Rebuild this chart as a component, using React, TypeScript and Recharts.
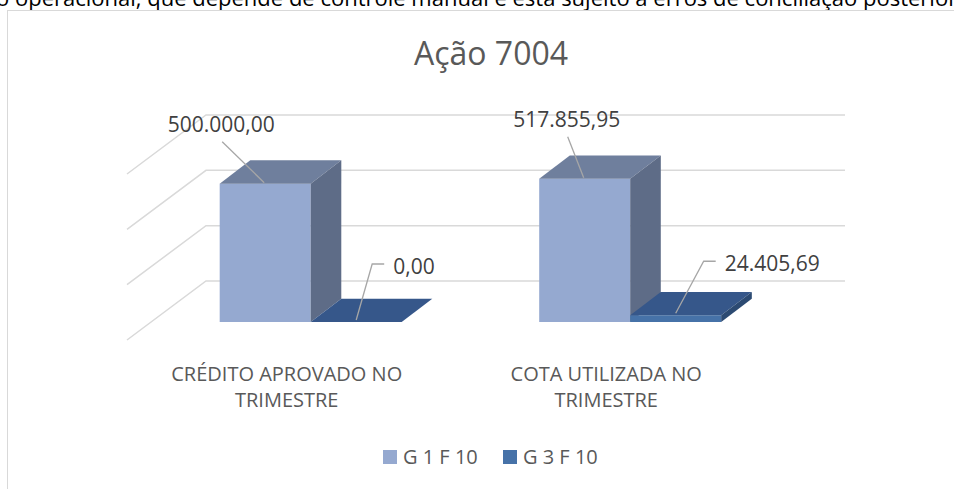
import { BarChart, Bar, XAxis, YAxis, CartesianGrid, Legend, LabelList } from 'recharts';

const categoryLines = [
  ['CRÉDITO APROVADO NO', 'TRIMESTRE'],
  ['COTA UTILIZADA NO', 'TRIMESTRE'],
];
const seriesNames = ['G 1 F 10', 'G 3 F 10'];
const g1Values = [500000, 517855.95];
const g3Values = [0, 24405.69];
const yTicks = [0, 200000, 400000, 600000];

const data = categoryLines.map((lines, i) => ({
  category: lines.join(' '),
  g1: g1Values[i],
  g3: g3Values[i],
}));

const FONT = '"Open Sans", sans-serif';

// oblique projection used to fake the excel 3d look
const FLOOR = { dx: 24, dy: -18 };
const DEPTH = { dx: 30.6, dy: -23.3 };
const WALL = { dx: 79, dy: -59 };

const g1Colors = { front: '#95A9D0', top: '#6F7F9D', side: '#5E6C87' };
const g3Colors = { front: '#4672A8', top: '#36578A', side: '#2C4A72' };

const fmt = (v: number) => {
  const [int, dec] = v.toFixed(2).split('.');
  return int.replace(/\B(?=(\d{3})+(?!\d))/g, '.') + ',' + dec;
};

const box3d = (c: any) => (props: any) => {
  const { x, y, width } = props;
  const h = Math.max(props.height || 0, 0);
  const fx = x + FLOOR.dx;
  const fy = y + FLOOR.dy;
  const rx = fx + width;
  return (
    <g>
      <rect x={fx} y={fy} width={width} height={h} fill={c.front} />
      <polygon
        points={`${fx},${fy} ${rx},${fy} ${rx + DEPTH.dx},${fy + DEPTH.dy} ${fx + DEPTH.dx},${fy + DEPTH.dy}`}
        fill={c.top}
      />
      <polygon
        points={`${rx},${fy} ${rx},${fy + h} ${rx + DEPTH.dx},${fy + h + DEPTH.dy} ${rx + DEPTH.dx},${fy + DEPTH.dy}`}
        fill={c.side}
      />
    </g>
  );
};

const wallLine = (p: any) => (
  <polyline
    key={p.key}
    points={`${p.x1},${p.y1} ${p.x1 + WALL.dx},${p.y1 + WALL.dy} ${p.x2 + WALL.dx},${p.y2 + WALL.dy}`}
    fill='none'
    stroke='#d9d9d9'
    strokeWidth={1.5}
  />
);

const labelStyle = { fontFamily: FONT, fontSize: 21, fill: '#404040' };
const leader = { stroke: '#a6a6a6', strokeWidth: 1.3, fill: 'none' };

const g1Shift = [-44, -18];
const G1Label = (props: any) => {
  const vb = props.viewBox || props;
  const cx = vb.x + FLOOR.dx + vb.width / 2;
  const top = vb.y + FLOOR.dy;
  const tx = cx + g1Shift[props.index];
  const base = top - 52;
  return (
    <g>
      <line x1={tx + 1} y1={base + 10} x2={cx - 1} y2={top - 1} {...leader} />
      <text x={tx} y={base} textAnchor='middle' {...labelStyle}>
        {fmt(Number(props.value))}
      </text>
    </g>
  );
};

const g3Knee = [
  { dx: 16, dy: -58 },
  { dx: 28, dy: -54 },
];
const G3Label = (props: any) => {
  const vb = props.viewBox || props;
  const cx = vb.x + FLOOR.dx + vb.width / 2;
  const top = vb.y + FLOOR.dy;
  const k = g3Knee[props.index];
  const kx = cx + k.dx;
  const ky = top + k.dy;
  return (
    <g>
      <polyline points={`${cx},${top - 2} ${kx},${ky} ${kx + 12},${ky}`} {...leader} />
      <text x={kx + 21} y={ky + 10} {...labelStyle}>
        {fmt(Number(props.value))}
      </text>
    </g>
  );
};

const CategoryTick = (props: any) => {
  const lines = categoryLines[props.index] || [];
  return (
    <g>
      {lines.map((l, i) => (
        <text
          key={i}
          x={props.x}
          y={props.y + 41 + i * 26}
          textAnchor='middle'
          fontFamily={FONT}
          fontSize={20}
          fill='#595959'
        >
          {l}
        </text>
      ))}
    </g>
  );
};

const renderLegend = () => (
  <div style={{ position: 'relative', height: 24, fontFamily: FONT, fontSize: 20, color: '#595959' }}>
    {seriesNames.map((name, i) => (
      <div key={name} style={{ position: 'absolute', left: i * 120, top: 0, display: 'flex', alignItems: 'center', whiteSpace: 'nowrap' }}>
        <span style={{ width: 14, height: 14, background: i === 0 ? g1Colors.front : g3Colors.front, marginRight: 6 }} />
        <span style={{ lineHeight: '24px' }}>{name}</span>
      </div>
    ))}
  </div>
);

export default function App() {
  return (
    <div style={{ position: 'absolute', left: 0, top: 0, width: 954, height: 489, overflow: 'hidden', background: '#fff' }}>
      <svg width={954} height={489} style={{ position: 'absolute', left: 0, top: 0 }}>
        <text x={-4} y={6} fontFamily={FONT} fontSize={22} fill='#000'>
          o operacional, que depende de controle manual e está sujeito a erros de conciliação posterior.
        </text>
        <text x={491} y={65} textAnchor='middle' fontFamily={FONT} fontSize={32} fill='#595959'>
          Ação 7004
        </text>
      </svg>
      <div
        style={{
          position: 'absolute',
          left: 7,
          top: 10,
          width: 1000,
          height: 600,
          border: '1px solid #d9d9d9',
          boxSizing: 'border-box',
        }}
      />
      <div style={{ position: 'absolute', left: 0, top: 0 }}>
        <BarChart
          width={954}
          height={489}
          data={data}
          margin={{ top: 174, right: 188, left: 127, bottom: 119 }}
          barCategoryGap='21.5%'
          barGap={0}
        >
          <CartesianGrid vertical={false} horizontal={wallLine} />
          <XAxis
            dataKey='category'
            axisLine={false}
            tickLine={false}
            tickSize={0}
            tickMargin={0}
            height={30}
            interval={0}
            tick={<CategoryTick />}
          />
          <YAxis hide domain={[0, 600000]} ticks={yTicks} />
          <Bar dataKey='g1' name={seriesNames[0]} fill={g1Colors.front} shape={box3d(g1Colors)} isAnimationActive={false}>
            <LabelList dataKey='g1' content={<G1Label />} />
          </Bar>
          <Bar dataKey='g3' name={seriesNames[1]} fill={g3Colors.front} shape={box3d(g3Colors)} isAnimationActive={false}>
            <LabelList dataKey='g3' content={<G3Label />} />
          </Bar>
          <Legend
            verticalAlign='middle'
            align='center'
            content={renderLegend}
            wrapperStyle={{ position: 'absolute', left: 383, top: 445, bottom: 'auto', width: 260, height: 24 }}
          />
        </BarChart>
      </div>
    </div>
  );
}
